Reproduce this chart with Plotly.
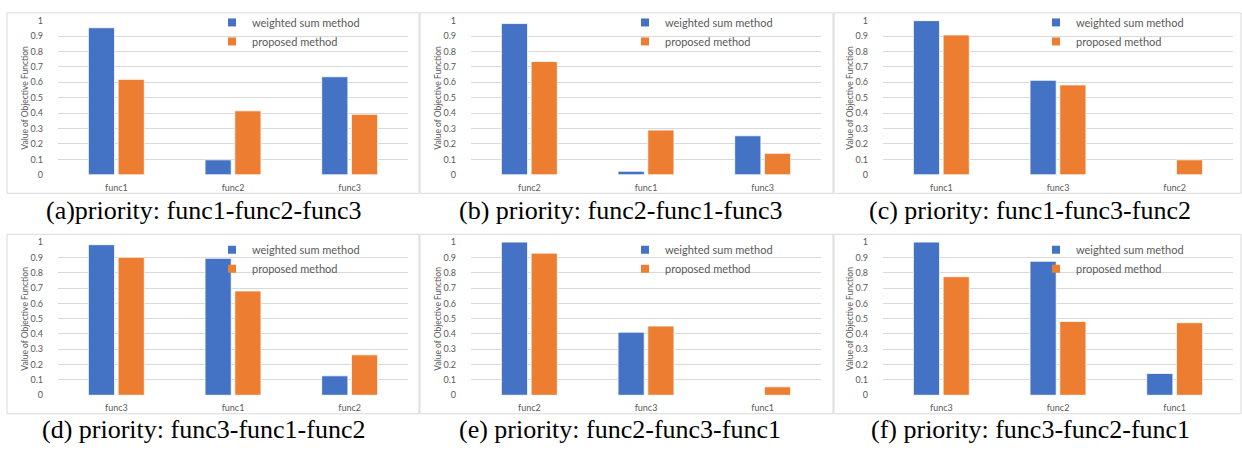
import plotly.graph_objects as go

W, H = 1242, 451

# ---- data ----
cats_a = ["func1", "func2", "func3"]
ws_a = [0.954, 0.097, 0.636]
pr_a = [0.619, 0.415, 0.392]

cats_b = ["func2", "func1", "func3"]
ws_b = [0.981, 0.023, 0.253]
pr_b = [0.735, 0.290, 0.139]

cats_c = ["func1", "func3", "func2"]
ws_c = [1.000, 0.613, 0.0]
pr_c = [0.907, 0.583, 0.097]

cats_d = ["func3", "func1", "func2"]
ws_d = [0.983, 0.894, 0.127]
pr_d = [0.901, 0.681, 0.264]

cats_e = ["func2", "func3", "func1"]
ws_e = [1.000, 0.412, 0.0]
pr_e = [0.928, 0.452, 0.055]

cats_f = ["func3", "func2", "func1"]
ws_f = [1.000, 0.875, 0.142]
pr_f = [0.774, 0.482, 0.474]

captions = [
    "(a)priority: func1-func2-func3",
    "(b) priority: func2-func1-func3",
    "(c) priority: func1-func3-func2",
    "(d) priority: func3-func1-func2",
    "(e) priority: func2-func3-func1",
    "(f) priority: func3-func2-func1",
]
series_names = ["weighted sum method", "proposed method"]
y_ticks = [0, 0.1, 0.2, 0.3, 0.4, 0.5, 0.6, 0.7, 0.8, 0.9, 1]
y_title = "Value of Objective Function"

# ---- styling / layout ----
BLUE = "#4472C4"
ORANGE = "#ED7D31"
GRID = "#D9D9D9"
TXT = "#595959"
FONT = "Lato, 'Open Sans', sans-serif"

panels = [
    (cats_a, ws_a, pr_a), (cats_b, ws_b, pr_b), (cats_c, ws_c, pr_c),
    (cats_d, ws_d, pr_d), (cats_e, ws_e, pr_e), (cats_f, ws_f, pr_f),
]

# plot areas in pixels: (left, right, top(y=1), bottom(y=0))
plot_x = [(58, 408), (471, 821), (883, 1233)]
plot_y = [(15, 173), (242, 399)]
frames_x = [(7, 419), (420, 833), (834, 1241)]
frames_y = [(7, 192), (234, 418)]
cap_x = [203, 620, 1030]
cap_y = [210, 434]
legend_x = [212, 625, 1036]
legend_y = [2, 235]
ytitle_off = 33

fig = go.Figure()
layout = dict(
    width=W, height=H, margin=dict(l=0, r=0, t=0, b=0),
    paper_bgcolor="white", plot_bgcolor="white",
    barmode="group", bargap=0.49, bargroupgap=0.12,
    font=dict(family=FONT, color=TXT, size=9),
    shapes=[], annotations=[],
)

for i, (cats, ws, pr) in enumerate(panels):
    r, c = divmod(i, 3)
    k = i + 1
    xa = "x" if k == 1 else f"x{k}"
    ya = "y" if k == 1 else f"y{k}"
    lg = "legend" if k == 1 else f"legend{k}"
    for name, vals, col in ((series_names[0], ws, BLUE), (series_names[1], pr, ORANGE)):
        fig.add_trace(go.Bar(
            x=cats, y=vals, name=name, xaxis=xa, yaxis=ya,
            marker=dict(color=col, line=dict(color="white", width=0.8)),
            showlegend=False,
        ))
        # legend entry with a small square key, as in the reference
        fig.add_trace(go.Scatter(
            x=[None], y=[None], mode="markers", name=name, xaxis=xa, yaxis=ya,
            marker=dict(symbol="square", size=8, color=col),
            legend=lg, showlegend=True, hoverinfo="skip",
        ))
    x0, x1 = plot_x[c]
    yt, yb = plot_y[r]
    layout["xaxis" if k == 1 else f"xaxis{k}"] = dict(
        domain=[x0 / W, x1 / W], anchor=ya, type="category",
        showgrid=False, showline=False, zeroline=False, ticks="",
        tickfont=dict(family=FONT, size=9, color=TXT), ticklabelstandoff=6,
        fixedrange=True,
    )
    layout["yaxis" if k == 1 else f"yaxis{k}"] = dict(
        domain=[(H - yb) / H, (H - yt) / H], anchor=xa,
        range=[0, 1], tickvals=y_ticks, ticktext=[f"{v:g}" for v in y_ticks],
        showgrid=True, gridcolor=GRID, gridwidth=1,
        showline=False, zeroline=False, ticks="",
        tickfont=dict(family=FONT, size=9, color=TXT), ticklabelstandoff=14,
        fixedrange=True,
    )
    layout[lg] = dict(
        x=legend_x[c] / W, y=(H - legend_y[r]) / H,
        xanchor="left", yanchor="top",
        bgcolor="rgba(0,0,0,0)", borderwidth=0,
        font=dict(family=FONT, size=11, color=TXT),
        tracegroupgap=0, itemwidth=30,
    )
    fx0, fx1 = frames_x[c]
    fy0, fy1 = frames_y[r]
    layout["shapes"].append(dict(
        type="rect", xref="paper", yref="paper",
        x0=fx0 / W, x1=fx1 / W, y0=(H - fy1) / H, y1=(H - fy0) / H,
        line=dict(color=GRID, width=1), fillcolor="rgba(0,0,0,0)", layer="below",
    ))
    # y-axis title
    layout["annotations"].append(dict(
        text=y_title, xref="paper", yref="paper", textangle=-90,
        x=(x0 - ytitle_off) / W, y=(H - (yt + yb) / 2) / H,
        xanchor="center", yanchor="middle", showarrow=False,
        font=dict(family=FONT, size=8.5, color=TXT),
    ))
    layout["annotations"].append(dict(
        text=captions[i], xref="paper", yref="paper",
        x=cap_x[c] / W, y=(H - cap_y[r]) / H, xanchor="center", yanchor="middle",
        showarrow=False,
        font=dict(family="'Liberation Serif', 'Times New Roman', serif", size=26, color="black"),
    ))

fig.update_layout(**layout)
fig.write_html("out.html")
